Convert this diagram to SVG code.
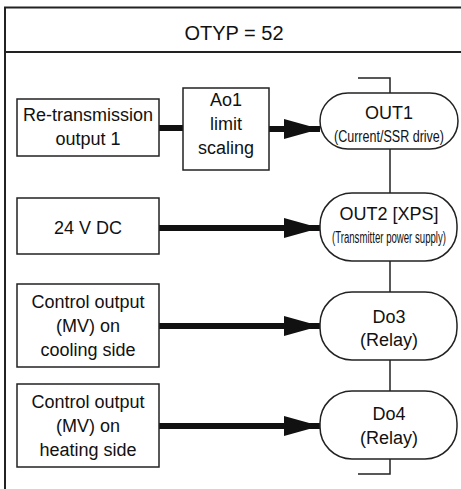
<svg xmlns="http://www.w3.org/2000/svg" width="461" height="489" viewBox="0 0 461 489">
<style>
text{font-family:"Liberation Sans",Arial,sans-serif;fill:#111;text-anchor:middle}
.box{fill:#fff;stroke:#222;stroke-width:1.5}
.cap{fill:#fff;stroke:#222;stroke-width:1.5}
.t18{font-size:18px}
.small{font-size:16px}
.thick{stroke:#111;stroke-width:6;fill:none}
.thin{stroke:#222;stroke-width:1.5;fill:none}
</style>
<defs>
<marker id="ah" viewBox="0 0 36 20" refX="36" refY="10" markerWidth="36" markerHeight="20" markerUnits="userSpaceOnUse" orient="auto">
<path d="M0,0 L36,10 L0,20 Z" fill="#111"/>
</marker>
</defs>
<g id="frame">
<rect x="5" y="7.5" width="470" height="500" fill="#fff" stroke="#222" stroke-width="2"/>
<line x1="5" y1="52" x2="461" y2="52" stroke="#222" stroke-width="2"/>
<text x="234" y="40" style="font-size:20px">OTYP = 52</text>
</g>
<g id="connectors">
<line class="thick" x1="159" y1="128" x2="183" y2="128"/>
<line class="thick" x1="269" y1="129" x2="320" y2="129" marker-end="url(#ah)"/>
<line class="thick" x1="159" y1="228" x2="320" y2="228" marker-end="url(#ah)"/>
<line class="thick" x1="159" y1="326" x2="320" y2="326" marker-end="url(#ah)"/>
<line class="thick" x1="159" y1="426" x2="320" y2="426" marker-end="url(#ah)"/>
<polyline class="thin" points="358,78 390,78 390,93"/>
<line class="thin" x1="390" y1="149" x2="390" y2="193"/>
<line class="thin" x1="390" y1="261" x2="390" y2="292"/>
<line class="thin" x1="390" y1="360" x2="390" y2="391"/>
<polyline class="thin" points="390,459 390,474 358,474"/>
</g>
<g id="retrans">
<rect class="box" x="17" y="99" width="142" height="57"/>
<text class="t18" x="88" y="121">Re-transmission</text>
<text class="t18" x="88" y="145">output 1</text>
</g>
<g id="ao1">
<rect class="box" x="183" y="88" width="86" height="82"/>
<text class="t18" x="226" y="106">Ao1</text>
<text class="t18" x="226" y="130">limit</text>
<text class="t18" x="226" y="154">scaling</text>
</g>
<g id="out1">
<rect class="cap" x="320" y="93" width="138" height="56" rx="28" ry="28"/>
<text class="t18" x="389" y="119">OUT1</text>
<text class="small" x="389" y="142" textLength="110" lengthAdjust="spacingAndGlyphs">(Current/SSR drive)</text>
</g>
<g id="dc24">
<rect class="box" x="17" y="198" width="142" height="56"/>
<text class="t18" x="88" y="234">24 V DC</text>
</g>
<g id="out2">
<rect class="cap" x="320" y="193" width="137" height="68" rx="32" ry="32"/>
<text class="t18" x="389" y="220">OUT2 [XPS]</text>
<text class="small" x="389" y="243" textLength="114" lengthAdjust="spacingAndGlyphs">(Transmitter power supply)</text>
</g>
<g id="cooling">
<rect class="box" x="17" y="284" width="142" height="83"/>
<text class="t18" x="88" y="308">Control output</text>
<text class="t18" x="88" y="332">(MV) on</text>
<text class="t18" x="88" y="356">cooling side</text>
</g>
<g id="do3">
<rect class="cap" x="320" y="292" width="137" height="68" rx="32" ry="32"/>
<text class="t18" x="389" y="323">Do3</text>
<text class="t18" x="389" y="346">(Relay)</text>
</g>
<g id="heating">
<rect class="box" x="17" y="384" width="142" height="83"/>
<text class="t18" x="88" y="408">Control output</text>
<text class="t18" x="88" y="432">(MV) on</text>
<text class="t18" x="88" y="456">heating side</text>
</g>
<g id="do4">
<rect class="cap" x="320" y="391" width="137" height="68" rx="32" ry="32"/>
<text class="t18" x="389" y="420">Do4</text>
<text class="t18" x="389" y="444">(Relay)</text>
</g>
</svg>
